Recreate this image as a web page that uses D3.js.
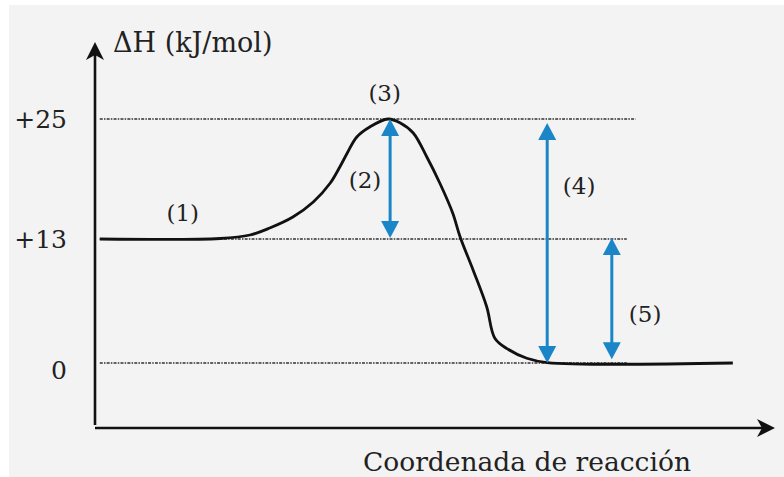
<!DOCTYPE html>
<html>
<head>
<meta charset="utf-8">
<script src="https://cdn.jsdelivr.net/npm/d3@7"></script>
<style>
  body { margin: 0; background: #fff; }
  text { font-family: "DejaVu Serif", serif; fill: #222; }
</style>
</head>
<body>
<svg id="grafico"></svg>
<script>
// valores de entalpia (kJ/mol)
const yTicks = [0, 13, 25];
const yTickLabels = ['0', '+13', '+25'];

// curva: coordenada de reaccion (0-100) e entalpia
const curvaX = [0.7, 18.4, 22.8, 25.7, 29.1, 32.1, 34.6, 36.0, 37.1, 38.5, 40.4, 43.1, 44.9, 46.8, 48.8, 50.7, 52.6, 53.7, 55.6, 57.6, 58.8, 60.6, 63.5, 66.5, 93.8];
const curvaH = [13, 13.05, 13.4, 14.1, 15.2, 16.7, 18.6, 20.2, 21.6, 23.2, 24.2, 25, 24.6, 23.6, 21.2, 18.6, 15.6, 13.2, 9.75, 5.9, 2.6, 1.5, 0.5, 0.05, 0];

// linhas de referencia (pontilhadas)
const refH = [25, 13, 0];
const refFim = [79.5, 78.2, 78.2];

// setas azuis
const setaX = [43.4, 66.5, 76.0];
const setaTopo = [25, 24.6, 13.1];
const setaBase = [13.1, 0, 0.4];

// rotulos
const rotulos = ['(1)', '(2)', '(3)', '(4)', '(5)'];
const rotuloX = [12.9, 39.7, 42.6, 71.2, 80.9];
const rotuloH = [15.6, 18.9, 27.6, 18.3, 5.1];

const largura = 784, altura = 477;

let svg = d3.select('#grafico')
    .attr('width', largura)
    .attr('height', altura);

svg.append('rect')
    .attr('x', 9).attr('y', 5)
    .attr('width', largura - 9).attr('height', altura - 5)
    .attr('fill', '#f3f3f3');

let fnX = d3.scaleLinear().domain([0, 100]).range([95, 775]);
let fnY = d3.scaleLinear().domain([0, 13, 25]).range([363, 239, 119]);

// linhas pontilhadas
svg.selectAll('.ref')
    .data(refH)
    .enter()
    .append('line')
    .classed('ref', true)
    .attr('x1', fnX(0.7))
    .attr('x2', (d, i) => fnX(refFim[i]))
    .attr('y1', d => fnY(d))
    .attr('y2', d => fnY(d))
    .attr('stroke', '#333')
    .attr('stroke-width', 1.5)
    .attr('stroke-dasharray', '3,1.2,1.5,1.2');

// eixo Y
let eixoY = d3.axisLeft(fnY)
    .tickValues(yTicks)
    .tickSize(0)
    .tickPadding(28)
    .tickFormat((d, i) => yTickLabels[i]);

let gY = svg.append('g')
    .attr('transform', 'translate(' + fnX(0) + ',0)')
    .call(eixoY);
gY.select('.domain').remove();
gY.selectAll('text')
    .style('font-family', '"DejaVu Serif", serif')
    .style('font-size', '25px')
    .attr('fill', '#222');
gY.selectAll('.tick').filter(d => d === 0).select('text').attr('dy', '0.62em');

// linhas dos eixos
svg.append('line')
    .attr('x1', fnX(0)).attr('x2', fnX(0))
    .attr('y1', 425).attr('y2', 52)
    .attr('stroke', '#111').attr('stroke-width', 2.6);
svg.append('line')
    .attr('x1', fnX(0)).attr('x2', fnX(100) - 8)
    .attr('y1', 428).attr('y2', 428)
    .attr('stroke', '#111').attr('stroke-width', 2.6);

// pontas dos eixos
svg.append('path')
    .attr('d', 'M' + fnX(0) + ',42 l-9,18 l9,-5 l9,5 Z')
    .attr('fill', '#111');
svg.append('path')
    .attr('d', 'M' + fnX(100) + ',428 l-18,-9 l5,9 l-5,9 Z')
    .attr('fill', '#111');

// curva
let linha = d3.line()
    .x((d, i) => fnX(curvaX[i]))
    .y(d => fnY(d))
    .curve(d3.curveCatmullRom.alpha(0.5));

svg.append('path')
    .datum(curvaH)
    .attr('d', linha)
    .attr('fill', 'none')
    .attr('stroke', '#111')
    .attr('stroke-width', 2.8);

// setas
const azul = '#1a86c8';
const ponta = 17, meia = 9;
setaX.forEach((sx, i) => {
    let px = fnX(sx), y1 = fnY(setaTopo[i]), y2 = fnY(setaBase[i]);
    svg.append('line')
        .attr('x1', px).attr('x2', px)
        .attr('y1', y1 + ponta - 2).attr('y2', y2 - ponta + 2)
        .attr('stroke', azul).attr('stroke-width', 3);
    svg.append('path')
        .attr('d', 'M' + px + ',' + y1 + ' l' + (-meia) + ',' + ponta + ' l' + (2 * meia) + ',0 Z')
        .attr('fill', azul);
    svg.append('path')
        .attr('d', 'M' + px + ',' + y2 + ' l' + (-meia) + ',' + (-ponta) + ' l' + (2 * meia) + ',0 Z')
        .attr('fill', azul);
});

// rotulos numerados
svg.selectAll('.rotulo')
    .data(rotulos)
    .enter()
    .append('text')
    .classed('rotulo', true)
    .attr('x', (d, i) => fnX(rotuloX[i]))
    .attr('y', (d, i) => fnY(rotuloH[i]))
    .attr('text-anchor', 'middle')
    .attr('dy', '0.35em')
    .style('font-size', '23px')
    .text(d => d);

// titulos
svg.append('text')
    .attr('x', 113).attr('y', 52)
    .style('font-size', '27px')
    .text('ΔH (kJ/mol)');

svg.append('text')
    .attr('x', 363).attr('y', 471)
    .style('font-size', '26.5px')
    .text('Coordenada de reacción');
</script>
</body>
</html>
